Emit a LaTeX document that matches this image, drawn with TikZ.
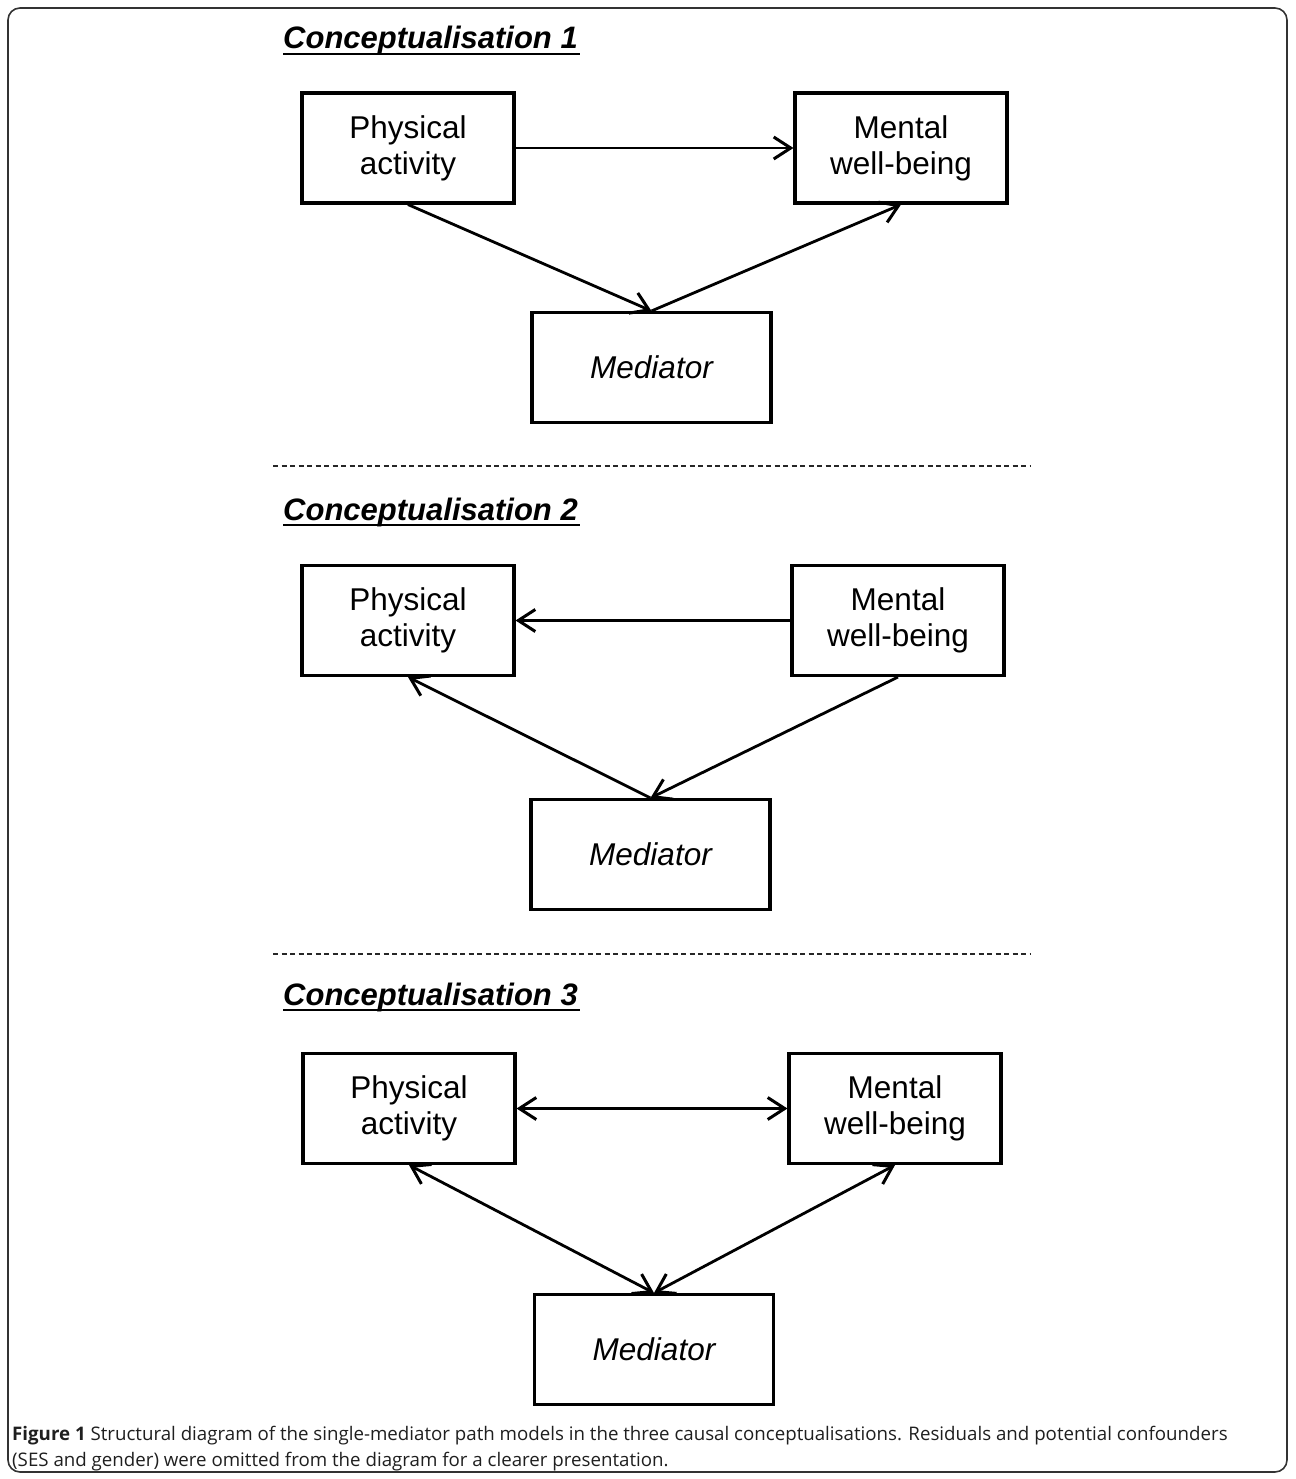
\documentclass[tikz,border=0pt]{standalone}
\usepackage{fontspec}
\setmainfont{Liberation Sans}
\newfontfamily\capfont{Open Sans}
\usetikzlibrary{arrows.meta}
\tikzset{
  x=1pt, y=-1pt,
  box/.style={draw, line width=3.1pt, minimum width=212pt, minimum height=110pt, align=center,
    font=\fontsize{31.5}{36}\selectfont, inner sep=0pt},
  medbox/.style={box, minimum width=239pt, font=\fontsize{31.5}{36}\selectfont\itshape},
  tip/.tip={Straight Barb[length=17pt,width=22pt,line width=3pt]},
  link/.style={line width=2.8pt, -tip},
  blink/.style={line width=2.8pt, tip-tip},
  title/.style={anchor=base west, inner sep=0pt, font=\fontsize{31}{36}\selectfont\bfseries\itshape},
  sep/.style={dash pattern=on 5pt off 3.5pt, line width=1.4pt, draw=black!85},
}
\begin{document}
\begin{tikzpicture}
\useasboundingbox (0,0) rectangle (1295,1479);
\draw[rounded corners=12pt, line width=1.6pt, draw=black!80] (8,8) rectangle (1287,1472);

% Conceptualisation 1
\node[title] (t1) at (283,49) {Conceptualisation 1};
\draw[line width=2.8pt] (t1.base west) ++(0,5) -- ++(297,0);
\node[box] (pa1) at (408,148) {Physical\\activity};
\node[box] (mw1) at (901,148) {Mental\\well-being};
\node[medbox] (m1) at (651.5,367.5) {Mediator};
\draw[link] (pa1.east) -- (mw1.west);
\draw[link] (pa1.south) -- (m1.north);
\draw[link] (m1.north) -- (mw1.south);

\draw[sep] (273,466) coordinate (d1a) -- (1030,466) coordinate (d1b);

% Conceptualisation 2
\node[title] (t2) at (283,520) {Conceptualisation 2};
\draw[line width=2.8pt] (t2.base west) ++(0,5) -- ++(297,0);
\node[box] (pa2) at (408,620.5) {Physical\\activity};
\node[box] (mw2) at (898,620.5) {Mental\\well-being};
\node[medbox] (m2) at (650.5,854.5) {Mediator};
\draw[link] (mw2.west) -- (pa2.east);
\draw[link] (m2.north) -- (pa2.south);
\draw[link] (mw2.south) -- (m2.north);

\draw[sep] (273,954) coordinate (d2a) -- (1030,954) coordinate (d2b);

% Conceptualisation 3
\node[title] (t3) at (283,1005) {Conceptualisation 3};
\draw[line width=2.8pt] (t3.base west) ++(0,5) -- ++(297,0);
\node[box] (pa3) at (409,1108.5) {Physical\\activity};
\node[box] (mw3) at (895,1108.5) {Mental\\well-being};
\node[medbox] (m3) at (654,1349.5) {Mediator};
\draw[blink] (pa3.east) -- (mw3.west);
\draw[blink] (pa3.south) -- (m3.north);
\draw[blink] (mw3.south) -- (m3.north);

% Caption
\node[anchor=base west, inner sep=0pt, text=black!88, font=\capfont\fontsize{18.7}{27}\selectfont] (cap1) at (12,1440)
  {\textbf{Figure 1} Structural diagram of the single-mediator path models in the three causal conceptualisations. Residuals and potential confounders};
\node[anchor=base west, inner sep=0pt, text=black!88, font=\capfont\fontsize{18.7}{27}\selectfont] (cap2) at (12,1466)
  {(SES and gender) were omitted from the diagram for a clearer presentation.};
\end{tikzpicture}
\end{document}
